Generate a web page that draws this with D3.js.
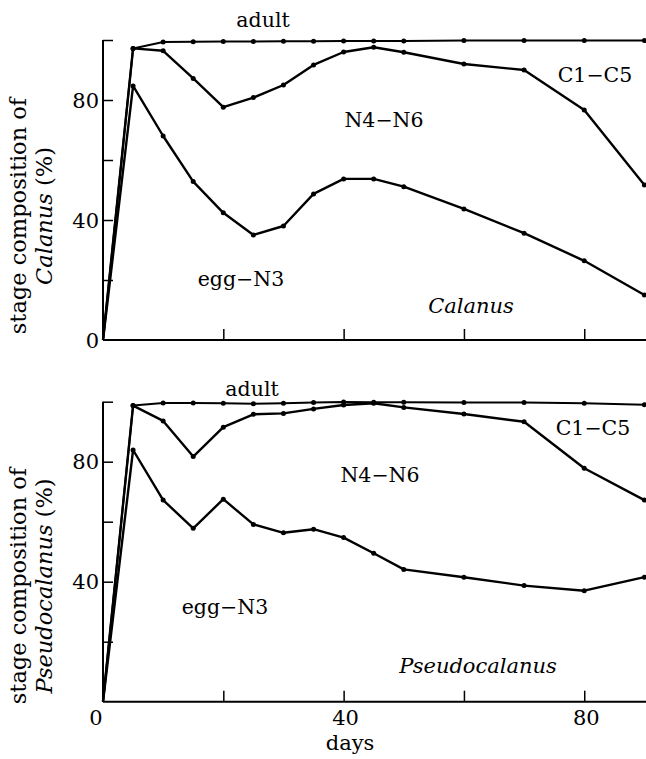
<!DOCTYPE html>
<html><head><meta charset="utf-8">
<script src="https://cdn.jsdelivr.net/npm/d3@7"></script>
<style>
body{margin:0;background:#fff}
text{font-family:"DejaVu Serif",serif;fill:#000}
</style>
</head><body>
<svg id="c" width="646" height="759"></svg>
<script>
// ---- data ----
const days = [0,5,10,15,20,25,30,35,40,45,50,60,70,80,90];
const calanusAdult = [0,97.2,99.3,99.4,99.5,99.5,99.6,99.6,99.7,99.7,99.7,99.8,99.8,99.8,99.8];
const calanusC1C5  = [0,97.2,96.4,87.2,77.6,80.8,85.0,91.7,96.0,97.6,95.9,92.0,90.0,76.7,51.7];
const calanusEggN3 = [0,84.7,68.0,52.8,42.4,35.0,38.0,48.7,53.7,53.7,51.1,43.7,35.6,26.4,15.0];
const pseudoAdult  = [0,98.7,99.6,99.6,99.5,99.3,99.5,99.7,99.9,99.8,99.8,99.7,99.7,99.5,99.0];
const pseudoC1C5   = [0,98.7,93.6,81.7,91.5,95.8,96.1,97.6,98.9,99.5,98.1,95.9,93.3,77.8,67.2];
const pseudoEggN3  = [0,83.9,67.2,57.8,67.5,59.1,56.3,57.5,54.7,49.5,44.1,41.5,38.7,37.0,41.5];
const xTicks = [20,40,60,80];
const xTickLabels = [0,40,80];
const yTicks = [20,40,60,80,100];
const yTickLabelsTop = [0,40,80];
const yTickLabelsBottom = [40,80];
const stageLabels = ["adult","C1\u2212C5","N4\u2212N6","egg\u2212N3"];

const svg = d3.select("#c");
const x = d3.scaleLinear().domain([0,90]).range([103,644.4]);

const panels = [
  {name:"Calanus", series:[calanusAdult,calanusC1C5,calanusEggN3], yRange:[340,40],
   yLabels:yTickLabelsTop, xLabels:[], labelPos:{adult:[263,27],c1:[595,82],n4:[384,127],egg:[241,286],sp:[471,313]}, ylabCenter:216},
  {name:"Pseudocalanus", series:[pseudoAdult,pseudoC1C5,pseudoEggN3], yRange:[701.7,401.7],
   yLabels:yTickLabelsBottom, xLabels:xTickLabels, labelPos:{adult:[252,396],c1:[593,435],n4:[380,482],egg:[225,614],sp:[478,673]}, ylabCenter:586}
];

panels.forEach(p=>{
  const y = d3.scaleLinear().domain([0,100]).range(p.yRange);
  const g = svg.append("g");
  // axes
  const xAxis = d3.axisTop(x).tickValues(xTicks).tickSize(11).tickFormat("");
  g.append("g").attr("transform",`translate(0,${y(0)})`).call(xAxis)
    .call(a=>{a.select(".domain").attr("d",`M${x(0)},0H646`).attr("stroke-width",2);
              a.selectAll(".tick line").attr("stroke-width",1.5);});
  const yAxis = d3.axisRight(y).tickValues(yTicks).tickSize(10).tickFormat("");
  g.append("g").attr("transform",`translate(${x(0)},0)`).call(yAxis)
    .call(a=>{a.select(".domain").attr("d",`M0,${y(0)}V${y(100)}`).attr("stroke-width",2);
              a.selectAll(".tick line").attr("stroke-width",1.5);});
  // tick labels
  g.selectAll(".yl").data(p.yLabels).enter().append("text")
    .attr("x",99).attr("y",d=>y(d)+7.5).attr("text-anchor","end")
    .attr("font-size",21).text(d=>d);
  g.selectAll(".xl").data(p.xLabels).enter().append("text")
    .attr("x",d=>x(d)+(d===0?-7:2)).attr("y",725).attr("text-anchor","middle")
    .attr("font-size",21).text(d=>d);
  // lines
  const line = d3.line().x((d,i)=>x(days[i])).y(d=>y(d));
  p.series.forEach((s,k)=>{
    g.append("path").datum(s).attr("d",line).attr("fill","none")
      .attr("stroke","#000").attr("stroke-width",k===0?2:2.4).attr("stroke-linejoin","round");
    g.selectAll(null).data(s.slice(1)).enter().append("circle")
      .attr("cx",(d,i)=>x(days[i+1])).attr("cy",d=>y(d)).attr("r",2.5).attr("fill","#000");
  });
  // stage labels
  const lp = p.labelPos;
  [["adult",lp.adult],["c1",lp.c1],["n4",lp.n4],["egg",lp.egg]].forEach((e,i)=>{
    g.append("text").attr("x",e[1][0]).attr("y",e[1][1]).attr("text-anchor","middle")
      .attr("font-size",20.5).text(stageLabels[i]);
  });
  g.append("text").attr("x",lp.sp[0]).attr("y",lp.sp[1]).attr("text-anchor","middle")
    .attr("font-size",21).attr("font-style","italic").text(p.name);
  // y label
  const yl = g.append("g").attr("transform",`translate(0,${p.ylabCenter}) rotate(-90)`);
  yl.append("text").attr("x",0).attr("y",26).attr("text-anchor","middle")
    .attr("font-size",22.5).text("stage composition of");
  const t2 = yl.append("text").attr("x",0).attr("y",52).attr("text-anchor","middle").attr("font-size",22.5);
  t2.append("tspan").attr("font-style","italic").text(p.name);
  t2.append("tspan").text(" (%)");
});
svg.append("text").attr("x",350).attr("y",750).attr("text-anchor","middle")
  .attr("font-size",21).text("days");
</script>
</body></html>
